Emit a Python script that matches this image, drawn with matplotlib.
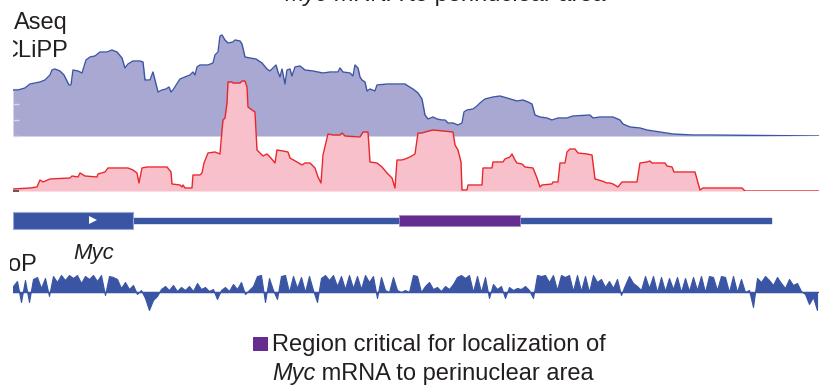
import matplotlib
matplotlib.use("Agg")
import matplotlib.pyplot as plt
import numpy as np
from matplotlib.patches import Rectangle
from matplotlib.transforms import Bbox, TransformedBbox

plt.rcParams["font.family"] = ["Liberation Sans", "DejaVu Sans"]

# --- data (positions along the locus, signal heights) ---
blue_x = [13, 18, 25, 30, 35, 40, 45, 50, 52, 55, 60, 64, 69, 71, 73, 78, 82, 86, 90, 95,
          100, 107, 112, 117, 122, 125, 128, 133, 140, 143, 145, 150, 153, 155, 158, 162,
          166, 169, 171, 173, 180, 185, 190, 193, 195, 197, 200, 208, 213, 215, 218, 220,
          222, 225, 228, 233, 235, 240, 242, 245, 250, 256, 262, 267, 270, 273, 276, 278,
          280, 282, 285, 287, 290, 292, 295, 300, 305, 313, 323, 330, 338, 340, 343, 350,
          353, 355, 358, 360, 362, 365, 367, 370, 375, 377, 387, 405, 408, 413, 418, 422,
          425, 428, 433, 437, 442, 445, 448, 453, 458, 462, 464, 467, 473, 477, 480, 485,
          493, 500, 507, 517, 523, 528, 532, 535, 540, 547, 552, 558, 567, 573, 590, 593,
          600, 613, 620, 623, 630, 640, 647, 660, 673, 693, 710, 820]
blue_y = [46, 46, 48, 52, 53, 54, 56, 61, 66, 67, 65, 61, 51, 51, 66, 65, 63, 76, 79, 80,
          84, 84, 86, 84, 78, 68, 72, 75, 75, 74, 56, 56, 64, 56, 44, 46,
          47, 49, 44, 46, 57, 59, 61, 64, 61, 69, 71, 71, 73, 81, 84, 100,
          101, 96, 93, 94, 96, 95, 92, 79, 78, 77, 73, 67, 65, 68, 71, 64,
          59, 67, 52, 66, 67, 60, 69, 70, 66, 65, 63, 64, 64, 68, 64, 63,
          60, 71, 68, 59, 56, 54, 45, 47, 45, 51, 52, 52, 50, 47, 43, 37,
          21, 17, 19, 17, 16, 16, 13, 13, 11, 13, 24, 26, 27, 30, 33, 37,
          39, 40, 38, 35, 36, 34, 32, 21, 19, 18, 16, 18, 18, 20, 21, 18,
          19, 19, 16, 12, 9, 8, 6, 4, 2, 1, 1, 0]

red_x = [13, 30, 37, 40, 43, 50, 70, 72, 78, 80, 85, 97, 98, 105, 108, 128, 133, 137, 139,
         142, 147, 167, 171, 172, 180, 182, 183, 185, 192, 193, 200, 202, 204, 208, 215,
         220, 222, 223, 225, 227, 228, 232, 233, 240, 242, 245, 247, 248, 252, 255, 257,
         260, 263, 267, 270, 275, 277, 283, 288, 290, 297, 302, 305, 310, 315, 318, 321,
         323, 328, 333, 340, 342, 345, 360, 363, 368, 370, 377, 382, 387, 392, 395, 397,
         402, 405, 410, 415, 418, 422, 425, 433, 453, 455, 458, 461, 462, 467, 468, 482,
         483, 492, 493, 503, 505, 510, 512, 515, 517, 522, 525, 533, 537, 540, 542, 552,
         553, 558, 560, 565, 567, 570, 575, 578, 587, 592, 595, 602, 607, 610, 613, 618,
         622, 637, 640, 647, 650, 652, 665, 667, 672, 674, 695, 698, 700, 703, 742, 745, 820]
red_y = [2, 3, 4, 11, 9, 12, 13, 15, 14, 18, 15, 14, 17, 19, 23, 23, 21, 18, 8,
         23, 24, 24, 19, 7, 6, 4, 6, 3, 3, 16, 16, 18, 28, 38, 39,
         37, 61, 71, 73, 88, 109, 109, 108, 108, 110, 110, 104, 84, 81, 79, 41,
         38, 35, 37, 34, 28, 41, 40, 39, 33, 29, 26, 28, 28, 23, 14, 8,
         36, 57, 56, 56, 58, 55, 54, 59, 59, 29, 28, 24, 18, 13, 3, 31,
         31, 32, 34, 37, 58, 58, 59, 61, 59, 46, 41, 29, 1, 1, 6, 6,
         23, 23, 29, 29, 32, 34, 37, 31, 28, 27, 24, 23, 13, 4, 6, 7,
         9, 9, 28, 28, 39, 42, 42, 38, 37, 36, 12, 10, 8, 8, 7, 4,
         9, 9, 28, 29, 30, 28, 28, 25, 24, 19, 19, 8, 1, 3, 3, 0, 0]

# conservation scores, sampled evenly from x=13 to x=817
cons = [6, 11, -10, 12, -10, 13, 15, 4, 14, -4, 16, 10, 17, 12, 17, 14, 17, 9, 16, 13,
        17, 11, 17, -3, 16, 15, 13, 4, 10, 3, 7, -2, 2, -6, -18, -8, -4, 3,
        6, 2, 7, 1, 5, 2, 6, 1, 9, 3, 5, 1, 3, -7, 2, 5, 1, 8, 3, 10, -2, 2,
        6, 16, 17, -10, 14, 2, -7, 16,
        17, 0, 16, 4, 15, 0, 16, 2, -10, 14, 17, 12, 17, 6, 16, 3, 17, 4, 16, 3,
        17, 10, 16, -6, 15, 2, 0, 15, 2, 0,
        2, 0, 17, 16, 0, 6, 10, 3, 5, 1, 6, 3, 8, 15, 17, 14, 17, 0, 16, 0,
        15, -6, 8, 3, 6, -6, 5, 2, 4, 3, 6, 2, -6, 17, 16, 17, 10, 17, 2, 17,
        15, 17, 1, 17, 1, 16, 0, 17, 10, 13, 5, 11, 4, 13, -3, 7, 16, 9, 6, 2,
        16, 4, 16, 0, 15, 1, 14, 3, 15, 0, 14, 1, 15, 2, 16, 0, 16, 15, 2, 16,
        15, 0, 16, 0, 13, 0, 2, -15, 14, 10, 16, 12, 7, 15, 9, 4, 13, 7, 9, 1,
        -2, -12, -5, -18]
cons_x = np.linspace(13, 817, len(cons))

gene_start, exon_end, gene_end = 13, 133, 771
region_start, region_end = 399, 520

BLUE = "#3b55a5"
LAV = "#a9a8d2"
RED = "#e9262b"
PINK = "#f8c0ca"
PURPLE = "#662d91"
TXT = "#231f20"

W, H = 820, 388
fig = plt.figure(figsize=(8.2, 3.88), dpi=100)


def px_axes(top, bottom):
    ax = fig.add_axes([13 / W, 1 - bottom / H, (820 - 13) / W, (bottom - top) / H])
    ax.patch.set_alpha(0)
    for s in ax.spines.values():
        s.set_visible(False)
    ax.set_xticks([])
    ax.set_yticks([])
    ax.set_xlim(13, 820)
    return ax


def ftext(x, y, s, **kw):
    kw.setdefault("color", TXT)
    kw.setdefault("fontsize", 17)
    return fig.text(x / W, 1 - y / H, s, va="baseline", **kw)


# top track
ax1 = px_axes(30, 136)
ax1.set_ylim(0, 106)
ax1.fill_between(blue_x, blue_y, color=LAV, lw=0)
ax1.plot(blue_x, blue_y, color=BLUE, lw=1.0)
ax1.set_yticks([0, 16, 32, 47])
ax1.tick_params(axis="y", direction="in", length=4, width=1, color="#d6d6e2", labelleft=False)

# second track
ax2 = px_axes(75, 191)
ax2.set_ylim(0, 116)
ax2.fill_between(red_x, red_y, color=PINK, lw=0)
ax2.plot(red_x, red_y, color=RED, lw=1.0)
ax2.set_yticks([0])
ax2.tick_params(axis="y", direction="in", length=4, width=1.2, color="#444444", labelleft=False)

# gene model
ax3 = px_axes(205.5, 235.5)
ax3.set_ylim(-15, 15)
ax3.broken_barh([(exon_end, gene_end - exon_end)], (-2.5, 5), color=BLUE)
ax3.broken_barh([(gene_start, exon_end - gene_start)], (-8.5, 17), facecolor=BLUE,
                edgecolor="#9aa6d4", lw=0.8)
ax3.broken_barh([(region_start, region_end - region_start)], (-5.5, 11), facecolor=PURPLE,
                edgecolor="#a88cc0", lw=0.6)
ax3.plot([(gene_start + exon_end) / 2 + 20], [0], marker=">", color="white", ms=6, mew=0)

# conservation
ax4 = px_axes(272, 314)
ax4.set_ylim(-22, 20)
ax4.fill_between(cons_x, cons, 0, color=BLUE, lw=0.8)
ax4.axhline(0, color=BLUE, lw=1.0)

# labels
ftext(14, 29, "Aseq")
t = ftext(1.5, 57, "CLiPP")
t.set_clip_box(TransformedBbox(Bbox([[13 / W, 0], [1, 1]]), fig.transFigure))
t.set_clip_on(True)
t = ftext(37, 271, "PhyloP", ha="right")
t.set_clip_box(TransformedBbox(Bbox([[10 / W, 0], [1, 1]]), fig.transFigure))
t.set_clip_on(True)
ftext(73, 259, "Myc", style="italic", fontsize=16)

# legend
fig.add_artist(Rectangle((253 / W, 1 - 351 / H), 15 / W, 14 / H, transform=fig.transFigure,
                         color=PURPLE, lw=0))
ftext(272, 351, "Region critical for localization of")
m = ftext(272, 380, "Myc", style="italic")
ax4.annotate(" mRNA to perinuclear area", xy=(1, 0), xycoords=m, va="bottom", ha="left",
             fontsize=17, color=TXT, annotation_clip=False)

# title cut off at top edge
m = ftext(284, 1.5, "Myc", style="italic")
ax4.annotate(" mRNA to perinuclear area", xy=(1, 0), xycoords=m, va="bottom", ha="left",
             fontsize=17, color=TXT, annotation_clip=False)

fig.savefig("out.png", dpi=100)
